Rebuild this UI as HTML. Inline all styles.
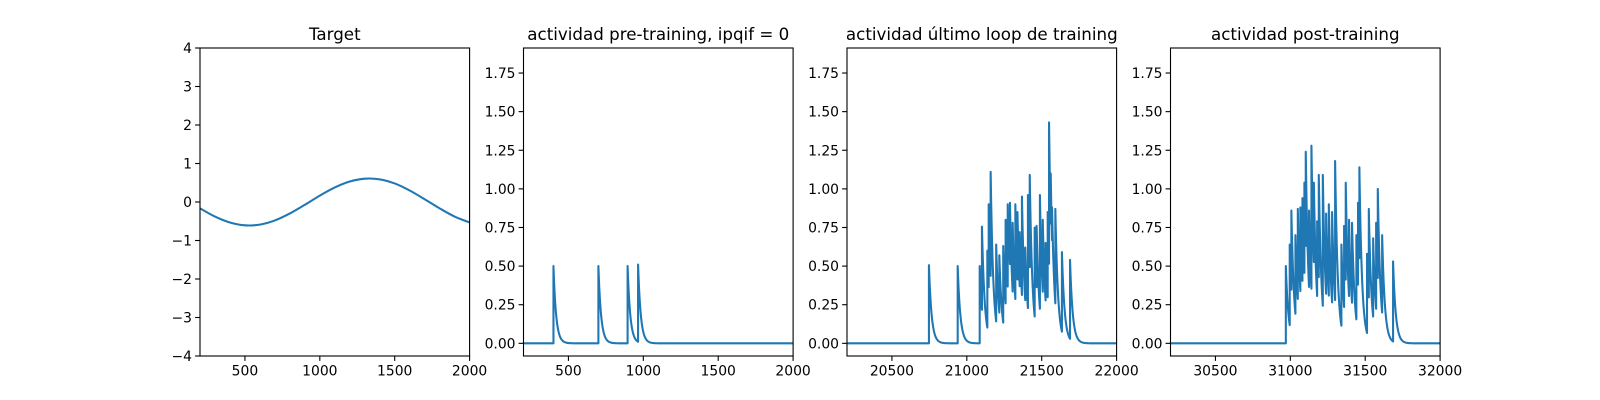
<!DOCTYPE html>
<html><head><meta charset="utf-8"><style>
body{margin:0;background:#fff;}
svg{display:block;font-family:"DejaVu Sans","Liberation Sans",sans-serif;}
</style></head><body>
<svg id="fig" width="1600" height="400" viewBox="0 0 1600 400"></svg>
<script>
// ---- data ----
const targetX = [200,300,400,500,600,700,800,900,1000,1100,1200,1300,1400,1500,1600,1700,1800,1900,2000];
const targetY = [-0.165,-0.378,-0.532,-0.606,-0.587,-0.479,-0.298,-0.072,0.166,0.378,0.532,0.606,0.587,0.482,0.299,0.072,-0.165,-0.378,-0.532];
const preSpikeT = [400,700,895,965];
const preSpikeV = [0.50,0.50,0.50,0.51];
const lastSpikeT = [20747,20939,21086,21101,21137,21146,21159,21196,21217,21243,21259,21273,21280,21288,21306,21324,21338,21353,21368,21390,21408,21420,21453,21466,21488,21507,21526,21540,21549,21560,21569,21591,21635,21689];
const lastSpikeV = [0.506,0.50,0.50,0.755,0.60,0.90,1.11,0.64,0.57,0.63,0.80,0.90,0.80,0.91,0.78,0.90,0.85,0.72,0.95,0.62,0.96,1.09,0.75,0.76,0.96,0.80,0.65,0.85,1.43,1.10,0.88,0.87,0.59,0.54];
const postSpikeT = [30970,30996,31007,31034,31050,31067,31081,31094,31103,31125,31141,31157,31179,31190,31217,31239,31257,31279,31299,31341,31359,31370,31392,31412,31441,31452,31461,31512,31524,31553,31573,31584,31613,31686];
const postSpikeV = [0.50,0.64,0.86,0.70,0.87,0.88,0.94,1.04,1.24,0.86,1.28,1.04,0.79,1.09,1.09,0.84,0.90,0.85,1.18,0.64,0.76,1.04,0.80,0.78,0.70,0.91,1.14,0.58,0.87,0.68,0.78,1.00,0.70,0.53];
const tau = 18;
const titles = ["Target","actividad pre-training, ipqif = 0","actividad último loop de training","actividad post-training"];
const xTicks = [[500,1000,1500,2000],[500,1000,1500,2000],[20500,21000,21500,22000],[30500,31000,31500,32000]];
const xLims = [[200,2000],[200,2000],[20200,22000],[30200,32000]];
const yTicksTarget = [-4,-3,-2,-1,0,1,2,3,4];
const yTicksAct = [0,0.25,0.5,0.75,1.0,1.25,1.5,1.75];

const NS="http://www.w3.org/2000/svg";
const svgEl=document.getElementById('fig');
function mk(tag,attrs,parent){const e=document.createElementNS(NS,tag);for(const k in attrs)e.setAttribute(k,attrs[k]);(parent||svgEl).appendChild(e);return e;}
const PW=269.6, PGAP=53.9, yTop=48, yBot=356;
function trace(ts,vs,x0,x1){
  const xs=[],ys=[];let v=0,last=x0,idx=0;
  for(let t=x0;t<=x1;t+=2){
    while(idx<ts.length&&ts[idx]<=t){
      const dv=v*Math.exp(-(ts[idx]-last)/tau);
      xs.push(ts[idx]);ys.push(dv);
      v=vs[idx];last=ts[idx];xs.push(ts[idx]);ys.push(v);idx++;
    }
    xs.push(t);ys.push(v*Math.exp(-(t-last)/tau));
  }
  return [xs,ys];
}
function smoothPath(px,py){
  let d='M'+px[0].toFixed(2)+','+py[0].toFixed(2);
  for(let i=0;i<px.length-1;i++){
    const i0=Math.max(0,i-1),i3=Math.min(px.length-1,i+2);
    const c1x=px[i]+(px[i+1]-px[i0])/6,c1y=py[i]+(py[i+1]-py[i0])/6;
    const c2x=px[i+1]-(px[i3]-px[i])/6,c2y=py[i+1]-(py[i3]-py[i])/6;
    d+='C'+c1x.toFixed(2)+','+c1y.toFixed(2)+' '+c2x.toFixed(2)+','+c2y.toFixed(2)+' '+px[i+1].toFixed(2)+','+py[i+1].toFixed(2);
  }
  return d;
}
const fmt=(v)=>v<0?'\u2212'+Math.abs(v):String(v);
for(let p=0;p<4;p++){
  const L=200+p*(PW+PGAP);
  const [xa,xb]=xLims[p];
  const [ya,yb]=p===0?[-4,4]:[-0.082,1.912];
  const sx=x=>L+(x-xa)/(xb-xa)*PW, sy=y=>yBot-(y-ya)/(yb-ya)*(yBot-yTop);
  const g=mk('g',{});
  
  
  const cp=mk('clipPath',{id:'c'+p},g);mk('rect',{x:L,y:yTop,width:PW,height:yBot-yTop},cp);
  let d='';
  if(p===0){d=smoothPath(targetX.map(sx),targetY.map(sy));}
  else{
    let xs,ys;
    if(p===1)[xs,ys]=trace(preSpikeT,preSpikeV,xa,xb);
    else if(p===2)[xs,ys]=trace(lastSpikeT,lastSpikeV,xa,xb);
    else [xs,ys]=trace(postSpikeT,postSpikeV,xa,xb);
    for(let i=0;i<xs.length;i++)d+=(i?'L':'M')+sx(xs[i]).toFixed(2)+','+sy(ys[i]).toFixed(2);
  }
  const line=mk('path',{d:d,fill:'none',stroke:'#1f77b4','stroke-width':2.08,'stroke-linejoin':'round','clip-path':'url(#c'+p+')'},g);
  
  
  const fr=mk('rect',{x:L,y:yTop,width:PW,height:yBot-yTop,fill:'none',stroke:'#000','stroke-width':1.1},g);
  
  
  xTicks[p].forEach(t=>{const x=sx(t);mk('line',{x1:x,x2:x,y1:yBot,y2:yBot+4.9,stroke:'#000','stroke-width':1.1},g);
    const tx=mk('text',{x:x,y:yBot+19.5,'font-size':13.9,'text-anchor':'middle'},g);tx.textContent=t;
    
    });
  const yt=p===0?yTicksTarget:yTicksAct;
  yt.forEach(t=>{const y=sy(t);mk('line',{x1:L-4.9,x2:L,y1:y,y2:y,stroke:'#000','stroke-width':1.1},g);
    const tx=mk('text',{x:L-8,y:y+5,'font-size':13.9,'text-anchor':'end'},g);tx.textContent=p===0?fmt(t):t.toFixed(2);
    
    });
  const ti=mk('text',{x:L+PW/2,y:yTop-8,'font-size':16.7,'text-anchor':'middle'},g);ti.textContent=titles[p];
  
  
}
</script>
</body></html>
